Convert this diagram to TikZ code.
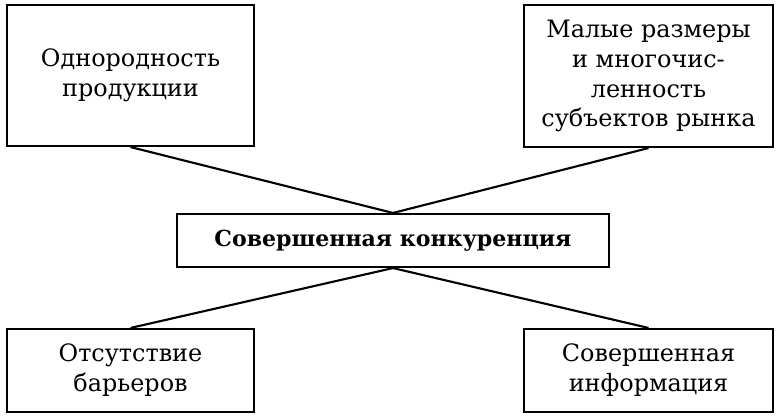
\documentclass[tikz,border=0pt]{standalone}
\usepackage{fontspec}
\setmainfont{DejaVu Serif}
\begin{document}
\begin{tikzpicture}[x=0.025cm,y=-0.025cm]

\tikzset{
        every node/.style={font=\fontsize{17}{21.3}\selectfont},
        every path/.style={line width=1.5pt},
        box/.style={draw,align=center,inner sep=0pt},
        side/.style={box,minimum width=247*0.025cm},
        main/.style={box,font=\fontsize{15.7}{21}\selectfont\bfseries,minimum width=432*0.025cm,minimum height=53*0.025cm}
}

\useasboundingbox (0,0) rectangle (780,419);

\node[side,minimum height=141*0.025cm] (homo) at (130.5,75.5) {Однородность\\продукции};
\node[side,minimum width=249*0.025cm,minimum height=142*0.025cm] (small) at (648.5,76) {Малые размеры\\и многочис-\\ленность\\субъектов рынка};
\node[main] (comp) at (393,240.5) {Совершенная конкуренция};
\node[side,minimum height=83*0.025cm] (barr) at (130.5,370.5) {Отсутствие\\барьеров};
\node[side,minimum width=249*0.025cm,minimum height=83*0.025cm] (info) at (648.5,370.5) {Совершенная\\информация};

\draw (homo.south) -- (comp.north);
\draw (small.south) -- (comp.north);
\draw (comp.south) -- (barr.north);
\draw (comp.south) -- (info.north);

\end{tikzpicture}
\end{document}
